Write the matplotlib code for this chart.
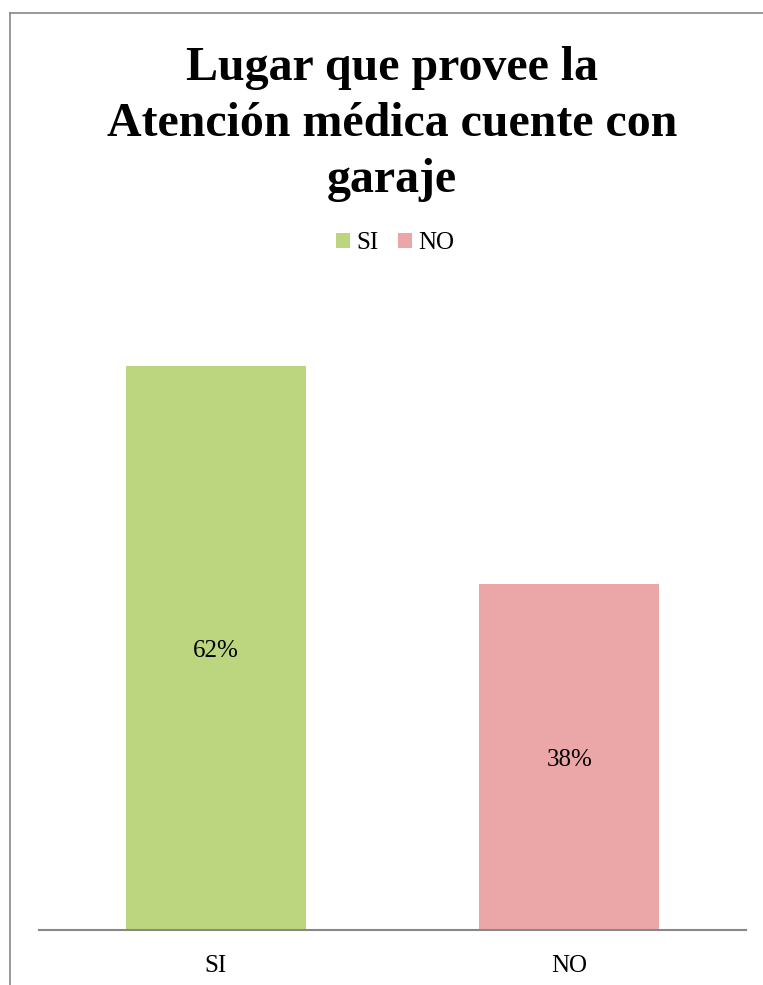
import matplotlib.pyplot as plt
from matplotlib.lines import Line2D

# Data
categories = ["SI", "NO"]
values = [62, 38]
labels = ["62%", "38%"]
colors = ["#BBD67E", "#EBA7A8"]

W, H = 763, 985
fig = plt.figure(figsize=(W / 100, H / 100), dpi=100)
plt.rcParams['font.family'] = ['Liberation Serif', 'DejaVu Serif']

# chart border (left and top visible)
fig.add_artist(Line2D([9.5 / W, 9.5 / W], [0, 1 - 13 / H], color="#878787", lw=1.2))
fig.add_artist(Line2D([9.5 / W, 1], [1 - 13 / H, 1 - 13 / H], color="#878787", lw=1.2))

# plot area: x 39..746, baseline at y=930, 9.1 px per unit
ax_left, ax_right = 39, 746
ax_bottom = 930
ymax = 70
ax_top = ax_bottom - 9.1 * ymax
ax = fig.add_axes([ax_left / W, 1 - ax_bottom / H,
                   (ax_right - ax_left) / W, (ax_bottom - ax_top) / H])

bars = ax.bar(range(len(categories)), values, width=0.51, color=colors, zorder=2)
ax.set_xlim(-0.5, len(categories) - 0.5)
ax.set_ylim(0, ymax)

for b, lab in zip(bars, labels):
    ax.text(b.get_x() + b.get_width() / 2, b.get_height() / 2 - 0.35, lab,
            ha="center", va="center", fontsize=18)

ax.set_xticks(range(len(categories)))
ax.set_xticklabels(categories, fontsize=18)
ax.tick_params(axis="x", length=0, pad=18)
ax.set_yticks([])
for s in ["left", "right", "top"]:
    ax.spines[s].set_visible(False)
ax.spines["bottom"].set_color("#878787")
ax.spines["bottom"].set_linewidth(1.5)

# title
fig.text(392 / W, 1 - 124 / H,
         "Lugar que provee la\nAtención médica cuente con\ngaraje",
         ha="center", va="center", fontsize=34.5, fontweight="bold",
         linespacing=1.36)

# legend
ax.legend(bars, categories, loc="center", bbox_to_anchor=(395 / W, 1 - 243 / H),
          bbox_transform=fig.transFigure, ncol=2, frameon=False, fontsize=18,
          handlelength=0.56, handleheight=0.56, handletextpad=0.25,
          columnspacing=0.8)

fig.savefig("out.png", dpi=100)
